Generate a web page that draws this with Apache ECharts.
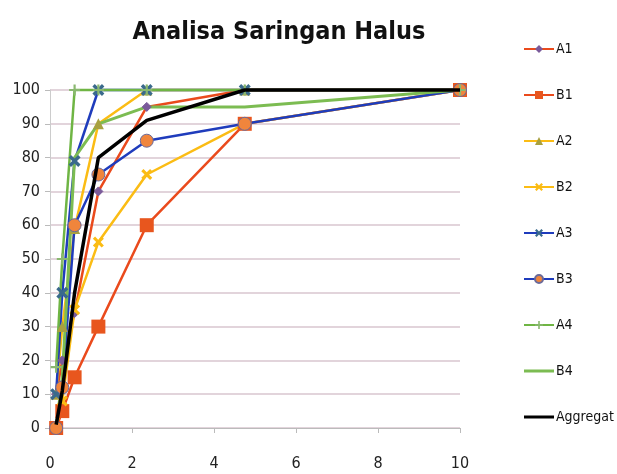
<!DOCTYPE html>
<html lang="en">
<head>
    <meta charset="UTF-8">
    <title>Analisa Saringan Halus</title>
    <script src="https://cdn.jsdelivr.net/npm/echarts@6/dist/echarts.min.js"></script>
    <style>
        html, body { margin: 0; padding: 0; background: #fff; }
        #chart { width: 617px; height: 474px; }
    </style>
</head>
<body>
    <div id="chart"></div>
    <script>
        // ukuran saringan (mm)
        const sieves = [0.15, 0.3, 0.6, 1.18, 2.36, 4.75, 10];

        // batas gradasi zona 1-4 (A = atas, B = bawah) dan agregat
        const A1 = [10, 20, 34, 70, 95, 100, 100];
        const B1 = [0, 5, 15, 30, 60, 90, 100];
        const A2 = [10, 30, 59, 90, 100, 100, 100];
        const B2 = [0, 8, 35, 55, 75, 90, 100];
        const A3 = [10, 40, 79, 100, 100, 100, 100];
        const B3 = [0, 12, 60, 75, 85, 90, 100];
        const A4 = [18, 50, 100, 100, 100, 100, 100];
        const B4 = [0, 15, 80, 90, 95, 95, 100];
        const Aggregat = [1, 11, 40, 80, 91, 100, 100];

        const FONT = "'DejaVu Sans Condensed', 'Open Sans', sans-serif";
        const X_PATH = 'path://M0,2L2,0L5,3L8,0L10,2L7,5L10,8L8,10L5,7L2,10L0,8L3,5Z';
        const PLUS_PATH = 'path://M4,0H6V4H10V6H6V10H4V6H0V4H4Z';
        const LINE_ICON = 'path://M0,0H0.01V0.01H0ZM0,3.6H30V6.4H0ZM0,9.99H0.01V10H0Z';

        const pairs = arr => sieves.map((s, i) => [s, arr[i]]);

        function line(name, data, color, width, symbol, size, itemStyle) {
            return {
                name: name,
                type: 'line',
                data: pairs(data),
                symbol: symbol || 'none',
                symbolSize: size || 8,
                showSymbol: !!symbol,
                clip: false,
                lineStyle: { color: color, width: width },
                itemStyle: Object.assign({ color: color }, itemStyle || {}),
                z: 2
            };
        }

        const series = [
            line('A1', A1, '#ea4a1c', 2.5, 'diamond', 9, { color: '#7a5a9a', borderColor: '#7a5a9a' }),
            line('B1', B1, '#ea4a1c', 2.5, 'rect', 14, { color: '#e8561e' }),
            line('A2', A2, '#fbbc14', 2.5, 'triangle', 11, { color: '#a8a040' }),
            line('B2', B2, '#fbbc14', 2.5, X_PATH, 11),
            line('A3', A3, '#1f3cbc', 2.5, X_PATH, 12, { color: '#3a6a8c' }),
            line('B3', B3, '#1f3cbc', 2.5, 'circle', 13, { color: '#f0853c', borderColor: '#6a6a9a', borderWidth: 1 }),
            line('A4', A4, '#6fb544', 2.5, PLUS_PATH, 11, { color: '#8ab870' }),
            line('B4', B4, '#7cbc52', 3, null),
            line('Aggregat', Aggregat, '#000000', 3.5, null)
        ];
        series[8].z = 3;

        const legendData = series.map(s => s.symbol === 'none'
            ? { name: s.name, icon: LINE_ICON, itemStyle: { color: s.lineStyle.color } }
            : { name: s.name });

        const chart = echarts.init(document.getElementById('chart'));
        chart.setOption({
            animation: false,
            title: {
                text: 'Analisa Saringan Halus',
                left: 274,
                textAlign: 'center',
                top: 15,
                textStyle: { fontFamily: FONT, fontSize: 25, fontWeight: 'bold', color: '#111' }
            },
            legend: {
                orient: 'vertical',
                left: 518,
                top: 37,
                itemGap: 32,
                itemWidth: 30,
                itemHeight: 10,
                textStyle: { fontFamily: FONT, fontSize: 14, color: '#111', padding: [0, 0, 0, -3] },
                data: legendData
            },
            grid: { left: 50, right: 157, top: 90, bottom: 46 },
            xAxis: {
                type: 'value',
                min: 0,
                max: 10,
                interval: 2,
                axisLine: { show: true, lineStyle: { color: '#bbb' } },
                axisTick: { show: true, length: 5, lineStyle: { color: '#bbb' } },
                splitLine: { show: false },
                axisLabel: { fontFamily: FONT, fontSize: 16, color: '#222', margin: 28 }
            },
            yAxis: {
                type: 'value',
                min: 0,
                max: 100,
                interval: 10,
                axisLine: { show: true, lineStyle: { color: '#ccc' } },
                axisTick: { show: true, length: 5, lineStyle: { color: '#bbb' } },
                splitLine: { lineStyle: { color: '#d9c6cf', width: 1.5 } },
                axisLabel: { fontFamily: FONT, fontSize: 16, color: '#222', margin: 10 }
            },
            series: series
        });
    </script>
</body>
</html>
